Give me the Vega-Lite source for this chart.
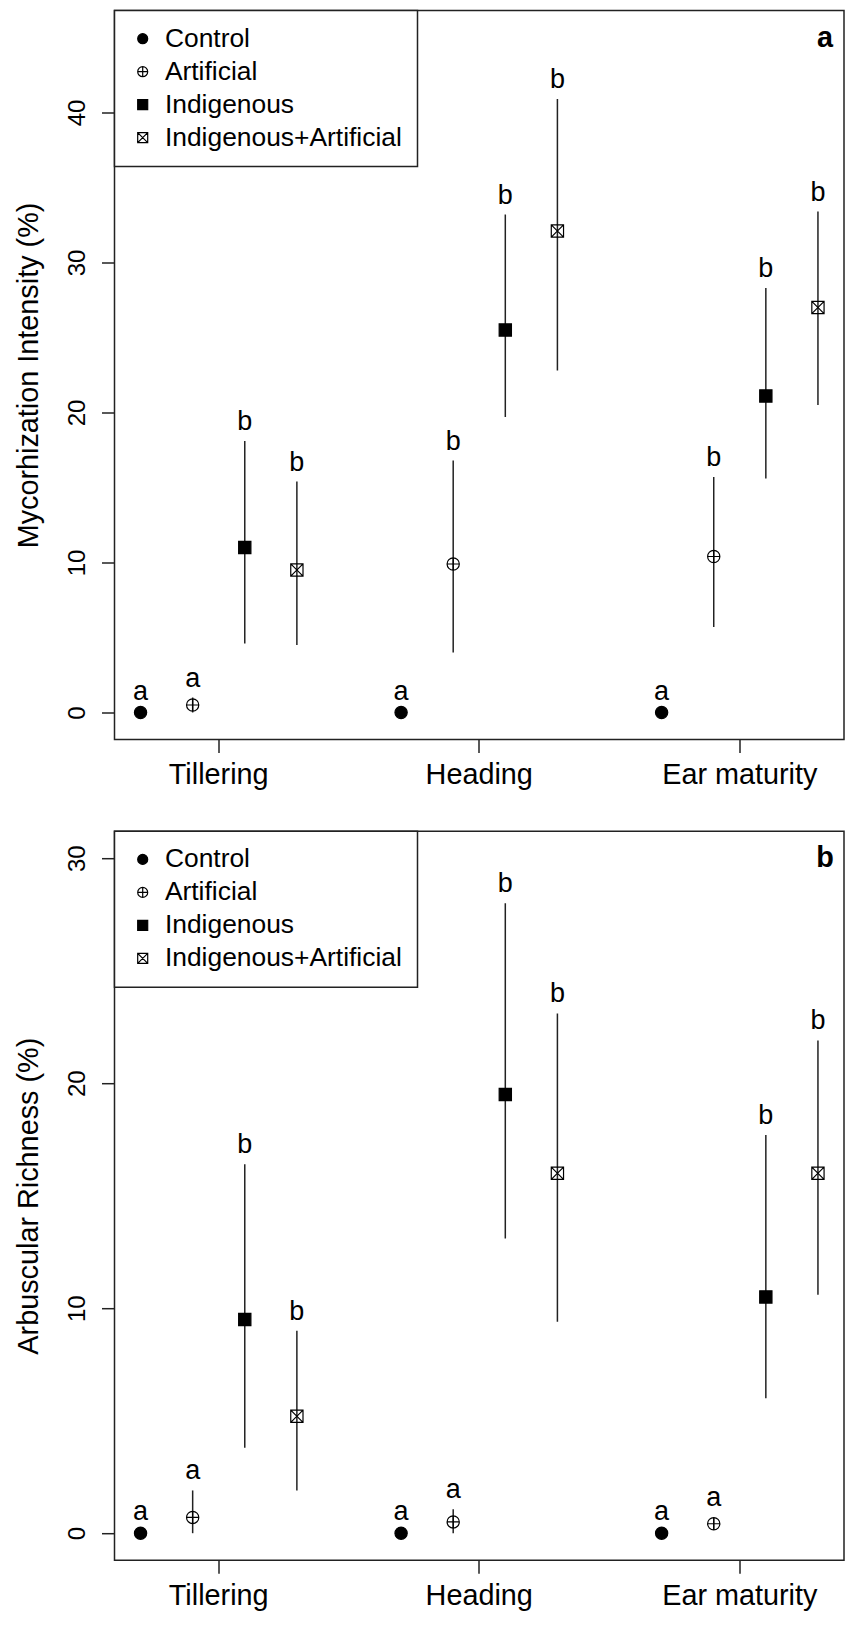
{
  "$schema": "https://vega.github.io/schema/vega-lite/v6.json",
  "padding": {"left": 12.5, "top": 8.5, "right": 2, "bottom": 2},
  "background": "white",
  "config": {
    "font": "Liberation Sans",
    "view": {"stroke": "#222", "strokeWidth": 1.5},
    "legend": {"strokeWidth": 1.5},
    "axis": {"domain": false, "grid": false, "tickSize": 13, "tickWidth": 1.5, "tickColor": "#222", "labelColor": "black", "labelFont": "Liberation Sans", "titleFont": "Liberation Sans", "titleColor": "black"}
  },
  "data": {"values": [
    {"measure": "Intensity", "stage": "Tillering", "treatment": "Control", "mean": 0, "lower": 0, "upper": 0, "letter": "a"},
    {"measure": "Intensity", "stage": "Tillering", "treatment": "Artificial", "mean": 0.5, "lower": 0, "upper": 1.0, "letter": "a"},
    {"measure": "Intensity", "stage": "Tillering", "treatment": "Indigenous", "mean": 11.0, "lower": 4.6, "upper": 18.1, "letter": "b"},
    {"measure": "Intensity", "stage": "Tillering", "treatment": "Indigenous+Artificial", "mean": 9.5, "lower": 4.5, "upper": 15.4, "letter": "b"},
    {"measure": "Intensity", "stage": "Heading", "treatment": "Control", "mean": 0, "lower": 0, "upper": 0, "letter": "a"},
    {"measure": "Intensity", "stage": "Heading", "treatment": "Artificial", "mean": 9.9, "lower": 4.0, "upper": 16.8, "letter": "b"},
    {"measure": "Intensity", "stage": "Heading", "treatment": "Indigenous", "mean": 25.5, "lower": 19.7, "upper": 33.2, "letter": "b"},
    {"measure": "Intensity", "stage": "Heading", "treatment": "Indigenous+Artificial", "mean": 32.1, "lower": 22.8, "upper": 40.9, "letter": "b"},
    {"measure": "Intensity", "stage": "Ear maturity", "treatment": "Control", "mean": 0, "lower": 0, "upper": 0, "letter": "a"},
    {"measure": "Intensity", "stage": "Ear maturity", "treatment": "Artificial", "mean": 10.4, "lower": 5.7, "upper": 15.7, "letter": "b"},
    {"measure": "Intensity", "stage": "Ear maturity", "treatment": "Indigenous", "mean": 21.1, "lower": 15.6, "upper": 28.3, "letter": "b"},
    {"measure": "Intensity", "stage": "Ear maturity", "treatment": "Indigenous+Artificial", "mean": 27.0, "lower": 20.5, "upper": 33.4, "letter": "b"},
    {"measure": "Richness", "stage": "Tillering", "treatment": "Control", "mean": 0, "lower": 0, "upper": 0, "letter": "a"},
    {"measure": "Richness", "stage": "Tillering", "treatment": "Artificial", "mean": 0.7, "lower": 0, "upper": 1.9, "letter": "a"},
    {"measure": "Richness", "stage": "Tillering", "treatment": "Indigenous", "mean": 9.5, "lower": 3.8, "upper": 16.4, "letter": "b"},
    {"measure": "Richness", "stage": "Tillering", "treatment": "Indigenous+Artificial", "mean": 5.2, "lower": 1.9, "upper": 9.0, "letter": "b"},
    {"measure": "Richness", "stage": "Heading", "treatment": "Control", "mean": 0, "lower": 0, "upper": 0, "letter": "a"},
    {"measure": "Richness", "stage": "Heading", "treatment": "Artificial", "mean": 0.5, "lower": 0, "upper": 1.06, "letter": "a"},
    {"measure": "Richness", "stage": "Heading", "treatment": "Indigenous", "mean": 19.5, "lower": 13.1, "upper": 28.0, "letter": "b"},
    {"measure": "Richness", "stage": "Heading", "treatment": "Indigenous+Artificial", "mean": 16.0, "lower": 9.4, "upper": 23.1, "letter": "b"},
    {"measure": "Richness", "stage": "Ear maturity", "treatment": "Control", "mean": 0, "lower": 0, "upper": 0, "letter": "a"},
    {"measure": "Richness", "stage": "Ear maturity", "treatment": "Artificial", "mean": 0.42, "lower": 0.15, "upper": 0.7, "letter": "a"},
    {"measure": "Richness", "stage": "Ear maturity", "treatment": "Indigenous", "mean": 10.5, "lower": 6.0, "upper": 17.7, "letter": "b"},
    {"measure": "Richness", "stage": "Ear maturity", "treatment": "Indigenous+Artificial", "mean": 16.0, "lower": 10.6, "upper": 21.9, "letter": "b"}
  ]},
  "bounds": "flush",
  "spacing": 91.7,
  "resolve": {
    "scale": {"y": "independent", "shape": "independent", "fill": "independent", "stroke": "independent"},
    "legend": {"shape": "independent", "fill": "independent", "stroke": "independent"}
  },
  "vconcat": [
    {
      "width": 729.5,
      "height": 729,
      "transform": [{"filter": "datum.measure === 'Intensity'"}],
      "encoding": {
        "x": {"field": "stage", "type": "nominal", "sort": ["Tillering", "Heading", "Ear maturity"],
              "scale": {"type": "band", "paddingInner": 0.2, "paddingOuter": 0},
              "axis": {"title": null, "labelAngle": 0, "labelFontSize": 28.8, "labelPadding": 31.4, "labelBaseline": "alphabetic", "labelAlign": "center", "bandPosition": 0.5}},
        "xOffset": {"field": "treatment", "type": "nominal", "sort": ["Control", "Artificial", "Indigenous", "Indigenous+Artificial"],
                    "scale": {"paddingInner": 0, "paddingOuter": 0}}
      },
      "layer": [
        {
          "mark": {"type": "rule", "stroke": "#222", "strokeWidth": 1.5},
          "encoding": {
            "y": {"field": "lower", "type": "quantitative",
                  "scale": {"domain": [-1.8, 46.8], "nice": false, "zero": false},
                  "axis": {"values": [0, 10, 20, 30, 40], "title": "Mycorhization Intensity (%)", "titleFontSize": 28.8, "titleFontWeight": "normal", "titleAngle": 270, "titleAlign": "center", "titleBaseline": "alphabetic", "titleX": -77.5, "titleY": 364.5, "labelFontSize": 24, "labelAngle": 270, "labelAlign": "center", "labelBaseline": "alphabetic", "labelPadding": 17}},
            "y2": {"field": "upper"}
          }
        },
        {
          "mark": {"type": "point", "filled": false, "strokeWidth": 1.2, "opacity": 1, "size": 150},
          "encoding": {
            "y": {"field": "mean", "type": "quantitative"},
            "shape": {"field": "treatment", "type": "nominal",
                      "scale": {"domain": ["Control", "Artificial", "Indigenous", "Indigenous+Artificial"],
                                "range": ["circle", "M -1 0 A 1 1 0 1 1 1 0 A 1 1 0 1 1 -1 0 Z M -1 0 L 1 0 M 0 -1 L 0 1", "square", "M -1 -1 L 1 -1 L 1 1 L -1 1 Z M -1 -1 L 1 1 M -1 1 L 1 -1"]},
                      "legend": {"title": null, "orient": "top-left", "offset": 0, "padding": 15, "strokeColor": "#222", "fillColor": "white", "labelFontSize": 26.4, "labelFont": "Liberation Sans", "labelColor": "black", "labelLimit": 400, "symbolSize": 100, "symbolStrokeWidth": 1.2, "rowPadding": 6, "labelOffset": 9, "cornerRadius": 0}},
            "fill": {"field": "treatment", "type": "nominal",
                     "scale": {"domain": ["Control", "Artificial", "Indigenous", "Indigenous+Artificial"], "range": ["black", "transparent", "black", "transparent"]},
                     "legend": {"title": null, "orient": "top-left", "offset": 0, "padding": 15, "strokeColor": "#222", "fillColor": "white", "labelFontSize": 26.4, "labelFont": "Liberation Sans", "labelColor": "black", "labelLimit": 400, "symbolSize": 100, "symbolStrokeWidth": 1.2, "rowPadding": 6, "labelOffset": 9, "cornerRadius": 0}},
            "stroke": {"field": "treatment", "type": "nominal",
                     "scale": {"domain": ["Control", "Artificial", "Indigenous", "Indigenous+Artificial"], "range": ["black", "black", "black", "black"]},
                     "legend": {"title": null, "orient": "top-left", "offset": 0, "padding": 15, "strokeColor": "#222", "fillColor": "white", "labelFontSize": 26.4, "labelFont": "Liberation Sans", "labelColor": "black", "labelLimit": 400, "symbolSize": 100, "symbolStrokeWidth": 1.2, "rowPadding": 6, "labelOffset": 9, "cornerRadius": 0}}
          }
        },
        {
          "transform": [{"filter": "datum.treatment !== 'Control'"}],
          "mark": {"type": "text", "fontSize": 27, "align": "center", "baseline": "alphabetic", "dy": -11, "color": "black"},
          "encoding": {"y": {"field": "upper", "type": "quantitative"}, "text": {"field": "letter"}}
        },
        {
          "transform": [{"filter": "datum.treatment === 'Control'"}],
          "mark": {"type": "text", "fontSize": 27, "align": "center", "baseline": "alphabetic", "dy": -13, "color": "black"},
          "encoding": {"y": {"field": "mean", "type": "quantitative"}, "text": {"field": "letter"}}
        },
        {
          "data": {"values": [{"panel": "a"}]},
          "mark": {"type": "text", "fontSize": 28.8, "fontWeight": "bold", "align": "center", "baseline": "alphabetic", "dx": 7, "color": "black"},
          "encoding": {
            "x": {"datum": "Ear maturity"},
            "xOffset": {"datum": "Indigenous+Artificial"},
            "y": {"datum": 44.4},
            "text": {"field": "panel"}
          }
        }
      ]
    },
    {
      "width": 729.5,
      "height": 729,
      "transform": [{"filter": "datum.measure === 'Richness'"}],
      "encoding": {
        "x": {"field": "stage", "type": "nominal", "sort": ["Tillering", "Heading", "Ear maturity"],
              "scale": {"type": "band", "paddingInner": 0.2, "paddingOuter": 0},
              "axis": {"title": null, "labelAngle": 0, "labelFontSize": 28.8, "labelPadding": 31.4, "labelBaseline": "alphabetic", "labelAlign": "center", "bandPosition": 0.5}},
        "xOffset": {"field": "treatment", "type": "nominal", "sort": ["Control", "Artificial", "Indigenous", "Indigenous+Artificial"],
                    "scale": {"paddingInner": 0, "paddingOuter": 0}}
      },
      "layer": [
        {
          "mark": {"type": "rule", "stroke": "#222", "strokeWidth": 1.5},
          "encoding": {
            "y": {"field": "lower", "type": "quantitative",
                  "scale": {"domain": [-1.2, 31.2], "nice": false, "zero": false},
                  "axis": {"values": [0, 10, 20, 30], "title": "Arbuscular Richness (%)", "titleFontSize": 28.8, "titleFontWeight": "normal", "titleAngle": 270, "titleAlign": "center", "titleBaseline": "alphabetic", "titleX": -77.5, "titleY": 364.5, "labelFontSize": 24, "labelAngle": 270, "labelAlign": "center", "labelBaseline": "alphabetic", "labelPadding": 17}},
            "y2": {"field": "upper"}
          }
        },
        {
          "mark": {"type": "point", "filled": false, "strokeWidth": 1.2, "opacity": 1, "size": 150},
          "encoding": {
            "y": {"field": "mean", "type": "quantitative"},
            "shape": {"field": "treatment", "type": "nominal",
                      "scale": {"domain": ["Control", "Artificial", "Indigenous", "Indigenous+Artificial"],
                                "range": ["circle", "M -1 0 A 1 1 0 1 1 1 0 A 1 1 0 1 1 -1 0 Z M -1 0 L 1 0 M 0 -1 L 0 1", "square", "M -1 -1 L 1 -1 L 1 1 L -1 1 Z M -1 -1 L 1 1 M -1 1 L 1 -1"]},
                      "legend": {"title": null, "orient": "top-left", "offset": 0, "padding": 15, "strokeColor": "#222", "fillColor": "white", "labelFontSize": 26.4, "labelFont": "Liberation Sans", "labelColor": "black", "labelLimit": 400, "symbolSize": 100, "symbolStrokeWidth": 1.2, "rowPadding": 6, "labelOffset": 9, "cornerRadius": 0}},
            "fill": {"field": "treatment", "type": "nominal",
                     "scale": {"domain": ["Control", "Artificial", "Indigenous", "Indigenous+Artificial"], "range": ["black", "transparent", "black", "transparent"]},
                     "legend": {"title": null, "orient": "top-left", "offset": 0, "padding": 15, "strokeColor": "#222", "fillColor": "white", "labelFontSize": 26.4, "labelFont": "Liberation Sans", "labelColor": "black", "labelLimit": 400, "symbolSize": 100, "symbolStrokeWidth": 1.2, "rowPadding": 6, "labelOffset": 9, "cornerRadius": 0}},
            "stroke": {"field": "treatment", "type": "nominal",
                     "scale": {"domain": ["Control", "Artificial", "Indigenous", "Indigenous+Artificial"], "range": ["black", "black", "black", "black"]},
                     "legend": {"title": null, "orient": "top-left", "offset": 0, "padding": 15, "strokeColor": "#222", "fillColor": "white", "labelFontSize": 26.4, "labelFont": "Liberation Sans", "labelColor": "black", "labelLimit": 400, "symbolSize": 100, "symbolStrokeWidth": 1.2, "rowPadding": 6, "labelOffset": 9, "cornerRadius": 0}}
          }
        },
        {
          "transform": [{"filter": "datum.treatment !== 'Control'"}],
          "mark": {"type": "text", "fontSize": 27, "align": "center", "baseline": "alphabetic", "dy": -11, "color": "black"},
          "encoding": {"y": {"field": "upper", "type": "quantitative"}, "text": {"field": "letter"}}
        },
        {
          "transform": [{"filter": "datum.treatment === 'Control'"}],
          "mark": {"type": "text", "fontSize": 27, "align": "center", "baseline": "alphabetic", "dy": -13, "color": "black"},
          "encoding": {"y": {"field": "mean", "type": "quantitative"}, "text": {"field": "letter"}}
        },
        {
          "data": {"values": [{"panel": "b"}]},
          "mark": {"type": "text", "fontSize": 28.8, "fontWeight": "bold", "align": "center", "baseline": "alphabetic", "dx": 7, "color": "black"},
          "encoding": {
            "x": {"datum": "Ear maturity"},
            "xOffset": {"datum": "Indigenous+Artificial"},
            "y": {"datum": 29.6},
            "text": {"field": "panel"}
          }
        }
      ]
    }
  ]
}
